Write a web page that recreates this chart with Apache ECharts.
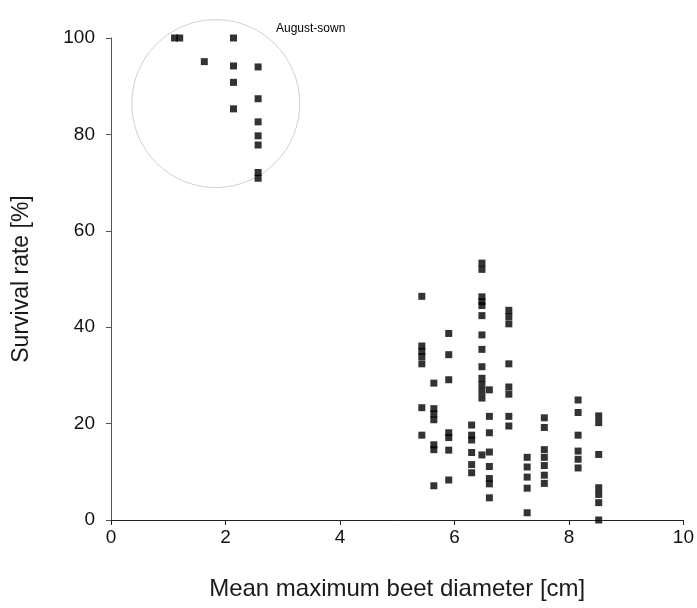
<!DOCTYPE html>
<html><head><meta charset="utf-8">
<script src="https://cdn.jsdelivr.net/npm/echarts@6/dist/echarts.min.js"></script>
<style>html,body{margin:0;padding:0;background:#fff}#c{width:697px;height:608px}</style>
</head><body><div id="c"></div>
<script>
// August-sown group
const augustDiam = [1.11, 1.20, 1.63, 2.14, 2.57];
const augustSurv = [
  [100],
  [100],
  [95.1],
  [100, 94.2, 90.8, 85.3],
  [94.0, 87.4, 82.6, 79.7, 77.8, 72.1, 70.9]
];
// Other sowing dates
const diameters = [5.43, 5.64, 5.90, 6.30, 6.48, 6.61, 6.95, 7.27, 7.57, 8.16, 8.52];
const survival = [
  [46.4, 36.1, 35.0, 33.9, 32.4, 23.3, 17.6],
  [28.4, 23.1, 22.0, 20.8, 15.6, 14.6, 7.1],
  [38.7, 34.3, 29.1, 18.1, 17.1, 14.5, 8.3],
  [19.7, 17.6, 16.6, 14.0, 11.5, 9.8],
  [53.3, 52.0, 46.3, 45.3, 44.5, 42.4, 38.4, 35.4, 31.8, 29.4, 28.1, 26.7, 25.3, 13.5],
  [27.0, 21.5, 18.1, 14.1, 11.1, 8.6, 7.5, 4.6],
  [43.5, 42.2, 40.7, 32.4, 27.6, 26.1, 21.5, 19.5],
  [13.0, 11.0, 8.9, 6.6, 1.5],
  [21.2, 19.2, 14.6, 13.0, 11.3, 9.3, 7.6],
  [24.9, 22.3, 17.6, 14.3, 12.6, 10.8],
  [21.6, 20.2, 13.6, 6.7, 5.3, 3.6, 0]
];
const circleCenter = [1.83, 86.4];
const xTicks = [0, 2, 4, 6, 8, 10];
const yTicks = [0, 20, 40, 60, 80, 100];

function pairs(xs, ys) {
  const out = [];
  xs.forEach((x, i) => ys[i].forEach(y => out.push([x, y])));
  return out;
}

const chart = echarts.init(document.getElementById('c'), null, {renderer: 'canvas'});
const font = '"Liberation Sans", Arial, sans-serif';
chart.setOption({
  animation: false,
  backgroundColor: '#ffffff',
  grid: {left: 111, right: 12, top: 38, bottom: 88, containLabel: false},
  xAxis: {
    type: 'value', min: xTicks[0], max: xTicks[xTicks.length - 1], interval: 2,
    name: 'Mean maximum beet diameter [cm]', nameLocation: 'middle', nameGap: 57,
    nameTextStyle: {fontFamily: font, fontSize: 24, color: '#1a1a1a'},
    axisLine: {lineStyle: {color: '#222', width: 1}},
    axisTick: {show: true, length: 5, lineStyle: {color: '#222'}},
    axisLabel: {fontFamily: font, fontSize: 19, color: '#111', margin: 8},
    splitLine: {show: false}
  },
  yAxis: {
    type: 'value', min: yTicks[0], max: yTicks[yTicks.length - 1], interval: 20,
    name: 'Survival rate [%]', nameLocation: 'middle', nameGap: 78,
    nameTextStyle: {fontFamily: font, fontSize: 23, color: '#1a1a1a'},
    axisLine: {show: true, lineStyle: {color: '#555', width: 1}},
    axisTick: {show: true, length: 5, lineStyle: {color: '#555'}},
    axisLabel: {fontFamily: font, fontSize: 19, color: '#111', margin: 16},
    splitLine: {show: false}
  },
  graphic: [{
    type: 'text', left: 276, top: 23,
    style: {text: 'August-sown', font: '12px ' + font, fill: '#000'}
  }],
  series: [
    {
      type: 'scatter', data: [circleCenter], symbol: 'circle', symbolSize: 168,
      itemStyle: {color: 'rgba(0,0,0,0)', borderColor: '#c4c4c4', borderWidth: 1},
      silent: true, z: 1
    },
    {
      type: 'scatter', data: pairs(augustDiam, augustSurv), symbol: 'rect', symbolSize: 7,
      itemStyle: {color: '#000'}, z: 3
    },
    {
      type: 'scatter', data: pairs(diameters, survival), symbol: 'rect', symbolSize: 7,
      itemStyle: {color: '#000'}, z: 3
    }
  ]
});
</script></body></html>
